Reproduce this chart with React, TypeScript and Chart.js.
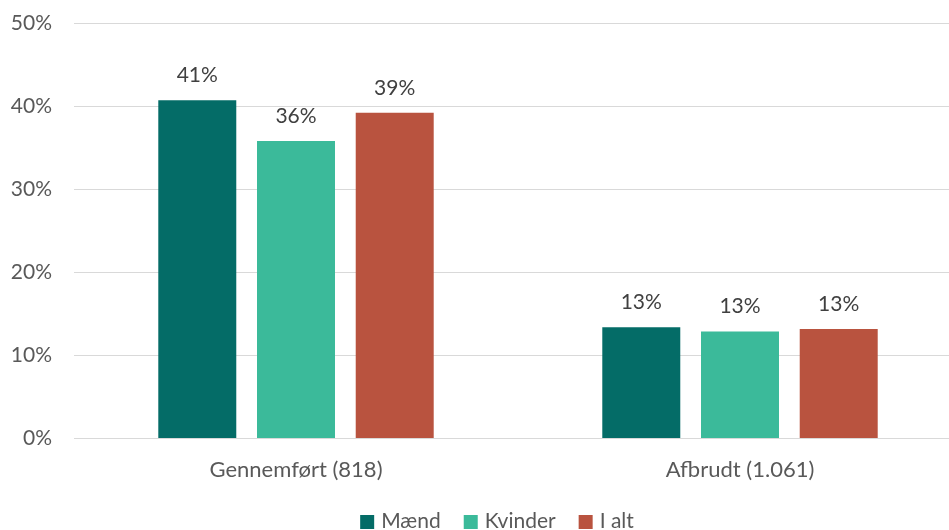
import React, { useEffect, useRef } from "react";
import { Chart, registerables } from "chart.js";

Chart.register(...registerables);

const categories = ["Gennemført (818)", "Afbrudt (1.061)"];
const seriesNames = ["Mænd", "Kvinder", "I alt"];
const maendValues = [40.7, 13.4];
const kvinderValues = [35.8, 12.9];
const iAltValues = [39.2, 13.2];
const valueLabels = [
  ["41%", "13%"],
  ["36%", "13%"],
  ["39%", "13%"],
];
const seriesColors = ["#046C67", "#3BBA9A", "#B9533F"];

const FONT = "Lato, 'Open Sans', sans-serif";
const FS = 21;

const dataLabelPlugin = {
  id: "dataLabels",
  afterDatasetsDraw(chart: any) {
    const ctx = chart.ctx;
    ctx.save();
    ctx.font = `${FS}px ${FONT}`;
    ctx.fillStyle = "#404040";
    ctx.textAlign = "center";
    ctx.textBaseline = "middle";
    chart.data.datasets.forEach((ds: any, i: number) => {
      const meta = chart.getDatasetMeta(i);
      meta.data.forEach((el: any, j: number) => {
        ctx.fillText(valueLabels[i][j], el.x, el.y - 25);
      });
    });
    ctx.restore();
  },
};

const legendPlugin = {
  id: "customLegend",
  afterDraw(chart: any) {
    const ctx = chart.ctx;
    ctx.save();
    ctx.font = `${FS}px ${FONT}`;
    ctx.textBaseline = "middle";
    ctx.textAlign = "left";
    const box = 14;
    const gapText = 7;
    const gapItem = 23;
    const widths = seriesNames.map((n) => ctx.measureText(n).width);
    const total =
      widths.reduce((a, b) => a + b, 0) +
      seriesNames.length * (box + gapText) +
      (seriesNames.length - 1) * gapItem;
    const cx = (chart.chartArea.left + chart.chartArea.right) / 2 - 21;
    let x = cx - total / 2;
    const y = chart.height - 9;
    seriesNames.forEach((n, i) => {
      ctx.fillStyle = seriesColors[i];
      ctx.fillRect(x, y - box / 2 + 1, box, box);
      x += box + gapText;
      ctx.fillStyle = "#595959";
      ctx.fillText(n, x, y);
      x += widths[i] + gapItem;
    });
    ctx.restore();
  },
};

export default function App() {
  const ref = useRef<HTMLCanvasElement | null>(null);
  useEffect(() => {
    if (!ref.current) return;
    const chart = new Chart(ref.current, {
      type: "bar",
      data: {
        labels: categories,
        datasets: [maendValues, kvinderValues, iAltValues].map((vals, i) => ({
          label: seriesNames[i],
          data: vals,
          backgroundColor: seriesColors[i],
          categoryPercentage: 0.667,
          barPercentage: 0.79,
        })),
      },
      options: {
        animation: false,
        responsive: false,
        maintainAspectRatio: false,
        layout: { padding: { top: 23, right: 8, bottom: 29, left: 0 } },
        plugins: {
          tooltip: { enabled: false },
          legend: { display: false },
        },
        scales: {
          x: {
            grid: { display: false, drawTicks: false },
            border: { display: false },
            ticks: {
              color: "#595959",
              font: { family: FONT, size: 22 },
              padding: 18,
            },
          },
          y: {
            min: 0,
            max: 50,
            grid: { color: "#d9d9d9", lineWidth: 1, drawTicks: false },
            border: { display: false },
            ticks: {
              stepSize: 10,
              padding: 22,
              color: "#595959",
              font: { family: FONT, size: FS },
              callback: (v: any) => `${v}%`,
            },
            afterFit: (scale: any) => {
              scale.width = 74;
              scale.paddingTop = 0;
              scale.paddingBottom = 0;
            },
          },
        },
      },
      plugins: [dataLabelPlugin, legendPlugin],
    });
    return () => chart.destroy();
  }, []);
  return (
    <div
      style={{
        position: "fixed",
        left: 0,
        top: 0,
        width: 949,
        height: 530,
        overflow: "hidden",
        background: "#fff",
      }}
    >
      <canvas ref={ref} width={970} height={530} style={{ display: "block" }} />
    </div>
  );
}
